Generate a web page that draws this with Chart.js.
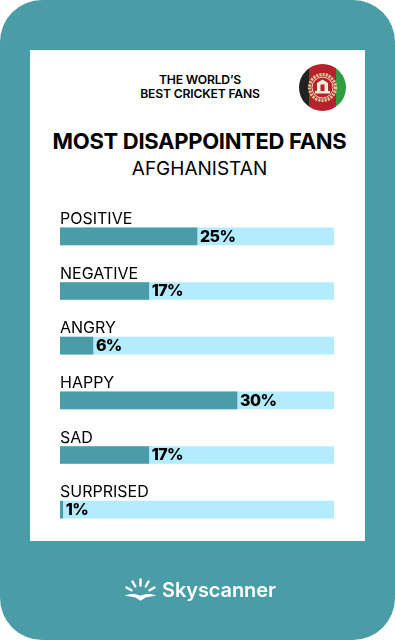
<!DOCTYPE html>
<html lang="en">
<head>
  <meta charset="UTF-8" />
  <title>Most Disappointed Fans</title>
  <script src="https://cdn.jsdelivr.net/npm/chart.js"></script>
  <style>
    html, body { margin: 0; padding: 0; background: #fff; }
    body { width: 395px; height: 640px; position: relative; overflow: hidden; font-family: Inter, sans-serif; color: #000; }
    #card { position: absolute; left: 0; top: 0; width: 395px; height: 640px; background: #4a9da6; border-radius: 42px; }
    #panel { position: absolute; left: 30px; top: 50px; width: 335px; height: 491px; background: #fff; }
    #chart { position: absolute; left: 0; top: 0; }
    .txt { position: absolute; text-align: center; white-space: nowrap; }
    #kicker { left: 100px; width: 200px; top: 72.5px; font-size: 12.2px; line-height: 14px; font-weight: 600; letter-spacing: -0.2px; }
    #title { left: 0; width: 399px; top: 126px; font-size: 22px; line-height: 30px; font-weight: 700; letter-spacing: -0.3px; }
    #sub { left: 0; width: 399px; top: 157px; font-size: 19px; line-height: 24px; font-weight: 400; }
    #flag { position: absolute; left: 298px; top: 63px; }
    #logo { position: absolute; left: 124px; top: 578px; }
    #brand { left: 162px; top: 577px; font-size: 20px; line-height: 26px; font-weight: 600; color: #fff; letter-spacing: -0.1px; }
  </style>
</head>
<body>
  <div id="card"></div>
  <div id="panel"></div>
  <div class="txt" id="kicker">THE WORLD’S<br>BEST CRICKET FANS</div>
  <div class="txt" id="title">MOST DISAPPOINTED FANS</div>
  <div class="txt" id="sub">AFGHANISTAN</div>

  <svg id="flag" width="49" height="49" viewBox="0 0 49 49">
    <defs><clipPath id="c"><circle cx="24.5" cy="24.5" r="23.5"/></clipPath></defs>
    <g clip-path="url(#c)">
      <rect x="0" y="0" width="11" height="49" fill="#222"/>
      <rect x="11" y="0" width="27" height="49" fill="#b5222b"/>
      <rect x="38" y="0" width="11" height="49" fill="#2f9e41"/>
    </g>
    <circle cx="24.5" cy="24.5" r="13" fill="none" stroke="#e3bd94" stroke-width="3.2" stroke-dasharray="2.2 1"/>
    <circle cx="24.5" cy="24.5" r="10.5" fill="none" stroke="#f0dcc0" stroke-width="1"/>
    <path d="M19 28V20l5.5-3.5L30 20v8z" fill="#f5ebdc"/>
    <rect x="22.5" y="21.5" width="4" height="6.5" fill="#b5222b"/>
    <rect x="17" y="28" width="15" height="2.5" fill="#f5ebdc"/>
  </svg>

  <canvas id="chart" width="395" height="640"></canvas>

  <svg id="logo" width="34" height="24" viewBox="0 0 34 24">
    <g fill="none" stroke="#fff" stroke-width="2.4" stroke-linecap="round">
      <path d="M16.5 1.5v6"/>
      <path d="M8.5 3.5l2.8 5"/>
      <path d="M24.5 3.5l-2.8 5"/>
      <path d="M2.5 9.5l5 2.8"/>
      <path d="M30.5 9.5l-5 2.8"/>
    </g>
    <path d="M0.5 17.5c5.5-2.2 11-2.2 16 0.3c5-2.5 10.5-2.5 16-0.3c-3.5 0.9-7.5 1.4-11 2.1l-5 3.2l-5-3.2c-3.500-0.7-7.500-1.200-11-2.100z" fill="#fff"/>
  </svg>
  <div class="txt" id="brand">Skyscanner</div>

  <script>
    const categories = ['POSITIVE', 'NEGATIVE', 'ANGRY', 'HAPPY', 'SAD', 'SURPRISED'];
    // printed percentages
    const percentLabels = ['25%', '17%', '6%', '30%', '17%', '1%'];
    // bar lengths as drawn in the picture, they are not quite proportional to the printed numbers
    const barLengths = [25, 16.2, 6, 32.3, 16.2, 0.5];
    const trackLengths = [50, 50, 50, 50, 50, 50];

    const teal = '#4a9da6';
    const track = '#b3ebff';

    // prints the percentage just past the end of each bar
    const percentPlugin = {
      id: 'percentLabels',
      afterDatasetsDraw(chart) {
        const c = chart.ctx;
        const bars = chart.getDatasetMeta(0).data;
        c.save();
        c.font = '800 16px Inter, sans-serif';
        c.letterSpacing = '-0.6px';
        c.fillStyle = '#000';
        c.textAlign = 'left';
        c.textBaseline = 'middle';
        bars.forEach((bar, i) => {
          c.fillText(percentLabels[i], bar.x + 3, bar.y + 0.5);
        });
        c.restore();
      }
    };

    new Chart(document.getElementById('chart'), {
      type: 'bar',
      plugins: [percentPlugin],
      data: {
        labels: categories,
        datasets: [
          { label: 'Share', data: barLengths, backgroundColor: teal, order: 1 },
          { label: 'Track', data: trackLengths, backgroundColor: track, order: 2 }
        ]
      },
      options: {
        indexAxis: 'y',
        responsive: false,
        animation: false,
        layout: { padding: { left: 52, right: 61, top: 209, bottom: 103 } },
        datasets: { bar: { grouped: false, barThickness: 17 } },
        plugins: { legend: { display: false }, tooltip: { enabled: false } },
        scales: {
          x: { display: false, min: 0, max: 50 },
          y: {
            grid: { display: false },
            border: { display: false },
            ticks: {
              mirror: true,
              padding: 0,
              labelOffset: -17,
              color: '#000',
              font: { family: 'Inter, sans-serif', size: 16 }
            }
          }
        }
      }
    });
  </script>
</body>
</html>
